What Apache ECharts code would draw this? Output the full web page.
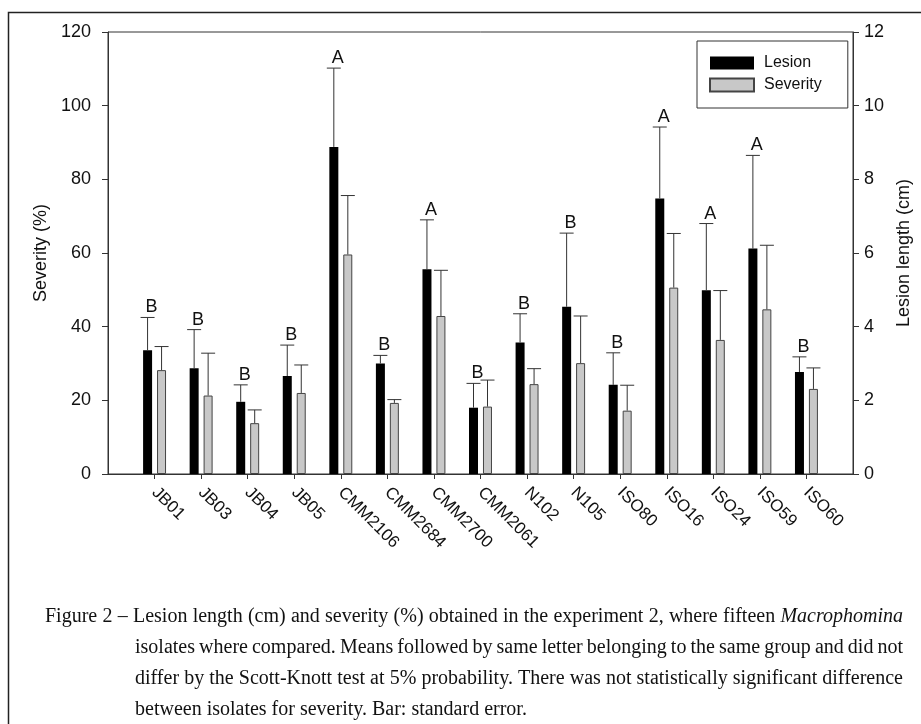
<!DOCTYPE html>
<html>
<head>
<meta charset="utf-8">
<script src="https://cdn.jsdelivr.net/npm/echarts@6/dist/echarts.min.js"></script>
<style>
  html, body { margin: 0; padding: 0; background: #fff; }
  #chart { width: 921px; height: 724px; }
</style>
</head>
<body>
<div id="chart"></div>
<script>
// isolates and values
var isolates = ['JB01','JB03','JB04','JB05','CMM2106','CMM2684','CMM2700','CMM2061','N102','N105','ISO80','ISO16','ISO24','ISO59','ISO60'];
var lesion = [3.36, 2.87, 1.96, 2.66, 8.88, 3.00, 5.56, 1.80, 3.57, 4.54, 2.42, 7.48, 4.99, 6.12, 2.77];
var lesionSE = [0.89, 1.05, 0.46, 0.84, 2.14, 0.22, 1.34, 0.66, 0.78, 2.00, 0.87, 1.94, 1.81, 2.53, 0.41];
var severity = [28.2, 21.3, 13.8, 22.0, 59.6, 19.3, 42.9, 18.3, 24.4, 30.1, 17.2, 50.6, 36.4, 44.7, 23.1];
var severitySE = [6.4, 11.5, 3.6, 7.6, 16.0, 0.9, 12.4, 7.2, 4.2, 12.8, 6.9, 14.7, 13.4, 17.4, 5.7];
var groups = ['B','B','B','B','A','B','A','B','B','B','B','A','A','A','B'];

var captionLines = [
    'Figure 2 – Lesion length (cm) and severity (%) obtained in the experiment 2, where fifteen *Macrophomina*',
    'isolates where compared. Means followed by same letter belonging to the same group and did not',
    'differ by the Scott-Knott test at 5% probability. There was not statistically significant difference',
    'between isolates for severity. Bar: standard error.'
];

var chartDom = document.getElementById('chart');
var myChart = echarts.init(chartDom);

// empty slot on each side so ticks sit like the original
var cats = [''].concat(isolates).concat(['']);
var lesionBars = ['-'].concat(lesion).concat(['-']);
var severityBars = ['-'].concat(severity).concat(['-']);

var lesionErr = [];
var severityErr = [];
isolates.forEach(function (name, i) {
    lesionErr.push([i + 1, lesion[i], lesionSE[i], groups[i]]);
    severityErr.push([i + 1, severity[i], severitySE[i]]);
});

function errorRender(offset, withLetter) {
    return function (params, api) {
        var base = api.coord([api.value(0), api.value(1)]);
        var top = api.coord([api.value(0), api.value(1) + api.value(2)]);
        var x = base[0] + offset;
        var children = [
            { type: 'line', shape: { x1: x, y1: base[1], x2: x, y2: top[1] }, style: { stroke: '#333', lineWidth: 1 } },
            { type: 'line', shape: { x1: x - 7, y1: top[1], x2: x + 7, y2: top[1] }, style: { stroke: '#333', lineWidth: 1 } }
        ];
        if (withLetter) {
            children.push({
                type: 'text',
                x: x + 4, y: top[1] - 1,
                style: {
                    text: api.value(3),
                    fill: '#111',
                    font: '18px "Liberation Sans", Arial, sans-serif',
                    textAlign: 'center',
                    textVerticalAlign: 'bottom'
                }
            });
        }
        return { type: 'group', children: children };
    };
}

var axisFont = '"Liberation Sans", Arial, sans-serif';
var serif = '"Liberation Serif", "Times New Roman", serif';

/* 캡션: 양쪽 정렬을 위해 단어별로 배치 */
var measureCtx = document.createElement('canvas').getContext('2d');
function captionGraphic() {
    var out = [];
    var lineX = [45, 135, 135, 135];
    var lineY = [617, 648, 679, 710];
    var rightEdge = 903;
    captionLines.forEach(function (line, li) {
        var words = line.split(' ').map(function (w) {
            var italic = /^\*.*\*$/.test(w);
            var txt = italic ? w.slice(1, -1) : w;
            var font = (italic ? 'italic ' : '') + '20px ' + serif;
            measureCtx.font = font;
            return { text: txt, font: font, w: measureCtx.measureText(txt).width };
        });
        var total = words.reduce(function (s, w) { return s + w.w; }, 0);
        var last = li === captionLines.length - 1;
        var gap = last ? 5 : (rightEdge - lineX[li] - total) / (words.length - 1);
        var x = lineX[li];
        words.forEach(function (w) {
            out.push({
                type: 'text', x: x, y: lineY[li], silent: true,
                style: { text: w.text, font: w.font, fill: '#111', textVerticalAlign: 'middle' }
            });
            x += w.w + gap;
        });
    });
    return out;
}

option = {
    animation: false,
    backgroundColor: '#fff',
    grid: {
        left: 108,
        right: 61,
        top: 32,
        bottom: 250,
        show: true,
        borderColor: '#333',
        borderWidth: 1
    },
    legend: {
        data: ['Lesion', 'Severity'],
        orient: 'vertical',
        left: 697,
        top: 41,
        padding: [14, 26, 15, 12],
        itemWidth: 44,
        itemHeight: 13,
        itemGap: 6,
        icon: 'rect',
        borderColor: '#333',
        borderWidth: 1,
        textStyle: {
            fontSize: 16,
            fontFamily: axisFont,
            color: '#111',
            padding: [0, 0, 0, 5]
        }
    },
    xAxis: {
        type: 'category',
        data: cats,
        boundaryGap: false,
        axisLine: { lineStyle: { color: '#333', width: 1 } },
        axisTick: {
            length: 5,
            lineStyle: { color: '#333' },
            interval: function (idx) { return idx > 0 && idx < cats.length - 1; }
        },
        axisLabel: {
            interval: 0,
            rotate: -45,
            margin: 16,
            fontSize: 17,
            fontFamily: axisFont,
            color: '#111'
        },
        splitLine: { show: false }
    },
    yAxis: [
        {
            type: 'value',
            min: 0,
            max: 120,
            interval: 20,
            name: 'Severity (%)',
            nameLocation: 'middle',
            nameRotate: 90,
            nameGap: 55,
            nameTextStyle: { fontSize: 18, fontFamily: axisFont, color: '#111' },
            axisLine: { show: true, lineStyle: { color: '#333' } },
            axisTick: { show: true, length: 6, lineStyle: { color: '#333' } },
            axisLabel: { margin: 17, fontSize: 18, fontFamily: axisFont, color: '#111' },
            splitLine: { show: false }
        },
        {
            type: 'value',
            position: 'right',
            min: 0,
            max: 12,
            interval: 2,
            name: 'Lesion length (cm)',
            nameLocation: 'middle',
            nameRotate: 90,
            nameGap: 42,
            nameTextStyle: { fontSize: 18, fontFamily: axisFont, color: '#111' },
            axisLine: { show: true, lineStyle: { color: '#333' } },
            axisTick: { show: true, length: 6, lineStyle: { color: '#333' } },
            axisLabel: { margin: 11, fontSize: 18, fontFamily: axisFont, color: '#111' },
            splitLine: { show: false }
        }
    ],
    series: [
        {
            name: 'Lesion',
            type: 'bar',
            yAxisIndex: 1,
            data: lesionBars,
            barWidth: 9,
            barGap: '55%',
            itemStyle: { color: '#000', borderColor: '#000', borderWidth: 0 }
        },
        {
            name: 'Severity',
            type: 'bar',
            yAxisIndex: 0,
            data: severityBars,
            barWidth: 9,
            itemStyle: { color: '#c8c8c8', borderColor: '#444', borderWidth: 1 }
        },
        {
            type: 'custom',
            yAxisIndex: 1,
            data: lesionErr,
            renderItem: errorRender(-7, true),
            clip: false,
            z: 3
        },
        {
            type: 'custom',
            yAxisIndex: 0,
            data: severityErr,
            renderItem: errorRender(7, false),
            clip: false,
            z: 3
        }
    ],
    graphic: [
        {
            type: 'rect',
            shape: { x: 8.5, y: 12.5, width: 1000, height: 1000 },
            style: { fill: 'none', stroke: '#222', lineWidth: 1.5 },
            silent: true
        }
    ].concat(captionGraphic())
};

option && myChart.setOption(option);
new ResizeObserver(() => myChart.resize()).observe(chartDom);
</script>
</body>
</html>
